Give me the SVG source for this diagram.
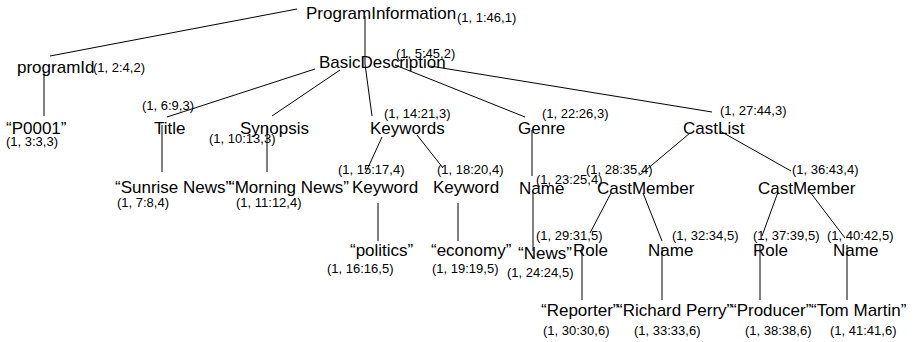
<svg xmlns="http://www.w3.org/2000/svg" width="920" height="342" viewBox="0 0 920 342">
  <style>
    .n { font-family: "Liberation Sans", Arial, sans-serif; font-size: 17px; fill: #000; }
    .p { font-family: "Liberation Sans", Arial, sans-serif; font-size: 13px; fill: #000; }
    .e line { stroke: #000; stroke-width: 1; }
  </style>
  <rect width="920" height="342" fill="#fff"/>

  <!-- tree edges -->
  <g id="edges" class="e">
    <line x1="297" y1="9" x2="50" y2="56"/>
    <line x1="365" y1="16" x2="365" y2="64"/>
    <line x1="44" y1="72" x2="44" y2="116"/>
    <line x1="315" y1="69" x2="167" y2="117"/>
    <line x1="340" y1="70" x2="272" y2="116"/>
    <line x1="365" y1="64" x2="372" y2="116"/>
    <line x1="395" y1="65" x2="525" y2="117"/>
    <line x1="430" y1="66" x2="712" y2="112"/>
    <line x1="162" y1="125" x2="162" y2="172"/>
    <line x1="267" y1="126" x2="267" y2="172"/>
    <line x1="382" y1="137" x2="366" y2="172"/>
    <line x1="417" y1="135" x2="443" y2="168"/>
    <line x1="532" y1="130" x2="532" y2="176"/>
    <line x1="690" y1="133" x2="640" y2="175"/>
    <line x1="720" y1="131" x2="791" y2="171"/>
    <line x1="378" y1="203" x2="378" y2="241"/>
    <line x1="458" y1="203" x2="458" y2="241"/>
    <line x1="533" y1="193" x2="533" y2="251"/>
    <line x1="611" y1="193" x2="590" y2="233"/>
    <line x1="643" y1="193" x2="662" y2="241"/>
    <line x1="778" y1="192" x2="762" y2="236"/>
    <line x1="810" y1="192" x2="845" y2="238"/>
    <line x1="582" y1="247" x2="582" y2="300"/>
    <line x1="662" y1="247" x2="662" y2="300"/>
    <line x1="760" y1="245" x2="760" y2="300"/>
    <line x1="847" y1="245" x2="847" y2="300"/>
  </g>

  <g id="n-programinformation"><text class="n" x="306" y="19">ProgramInformation</text><text class="p" x="457" y="22">(1, 1:46,1)</text></g>
  <g id="n-programid"><text class="n" x="17" y="73">programId</text><text class="p" x="93" y="72">(1, 2:4,2)</text></g>
  <g id="n-basicdescription"><text class="n" x="319" y="68">BasicDescription</text><text class="p" x="396" y="58">(1, 5:45,2)</text></g>
  <g id="n-p0001"><text class="n" x="6" y="134">“P0001”</text><text class="p" x="6" y="146">(1, 3:3,3)</text></g>
  <g id="n-title"><text class="n" x="154" y="134">Title</text><text class="p" x="142" y="110">(1, 6:9,3)</text></g>
  <g id="n-synopsis"><text class="n" x="240" y="134">Synopsis</text><text class="p" x="209" y="143">(1, 10:13,3)</text></g>
  <g id="n-keywords"><text class="n" x="370" y="134">Keywords</text><text class="p" x="384" y="118">(1, 14:21,3)</text></g>
  <g id="n-genre"><text class="n" x="518" y="134">Genre</text><text class="p" x="542" y="118">(1, 22:26,3)</text></g>
  <g id="n-castlist"><text class="n" x="683" y="134">CastList</text><text class="p" x="720" y="115">(1, 27:44,3)</text></g>
  <g id="n-sunrise"><text class="n" x="115" y="193">“Sunrise News”</text><text class="p" x="117" y="207">(1, 7:8,4)</text></g>
  <g id="n-morning"><text class="n" x="229" y="193">“Morning News”</text><text class="p" x="236" y="207">(1, 11:12,4)</text></g>
  <g id="n-keyword1"><text class="n" x="352" y="193">Keyword</text><text class="p" x="338" y="174">(1, 15:17,4)</text></g>
  <g id="n-keyword2"><text class="n" x="433" y="193">Keyword</text><text class="p" x="437" y="174">(1, 18:20,4)</text></g>
  <g id="n-name-genre"><text class="n" x="519" y="194">Name</text><text class="p" x="536" y="184">(1, 23:25,4)</text></g>
  <g id="n-castmember1"><text class="n" x="597" y="194">CastMember</text><text class="p" x="586" y="174">(1, 28:35,4)</text></g>
  <g id="n-castmember2"><text class="n" x="758" y="194">CastMember</text><text class="p" x="792" y="174">(1, 36:43,4)</text></g>
  <g id="n-politics"><text class="n" x="350" y="256">“politics”</text><text class="p" x="327" y="273">(1, 16:16,5)</text></g>
  <g id="n-economy"><text class="n" x="431" y="256">“economy”</text><text class="p" x="432" y="273">(1, 19:19,5)</text></g>
  <g id="n-news"><text class="n" x="518" y="259">“News”</text><text class="p" x="507" y="277">(1, 24:24,5)</text></g>
  <g id="n-role1"><text class="n" x="573" y="256">Role</text><text class="p" x="536" y="240">(1, 29:31,5)</text></g>
  <g id="n-name1"><text class="n" x="648" y="256">Name</text><text class="p" x="672" y="240">(1, 32:34,5)</text></g>
  <g id="n-role2"><text class="n" x="753" y="256">Role</text><text class="p" x="753" y="240">(1, 37:39,5)</text></g>
  <g id="n-name2"><text class="n" x="833" y="256">Name</text><text class="p" x="827" y="240">(1, 40:42,5)</text></g>
  <g id="n-reporter"><text class="n" x="541" y="316">“Reporter”</text><text class="p" x="543" y="335">(1, 30:30,6)</text></g>
  <g id="n-richard"><text class="n" x="617" y="316">“Richard Perry”</text><text class="p" x="634" y="335">(1, 33:33,6)</text></g>
  <g id="n-producer"><text class="n" x="731" y="316">“Producer”</text><text class="p" x="745" y="335">(1, 38:38,6)</text></g>
  <g id="n-tom"><text class="n" x="811" y="316">“Tom Martin”</text><text class="p" x="830" y="335">(1, 41:41,6)</text></g>
</svg>
